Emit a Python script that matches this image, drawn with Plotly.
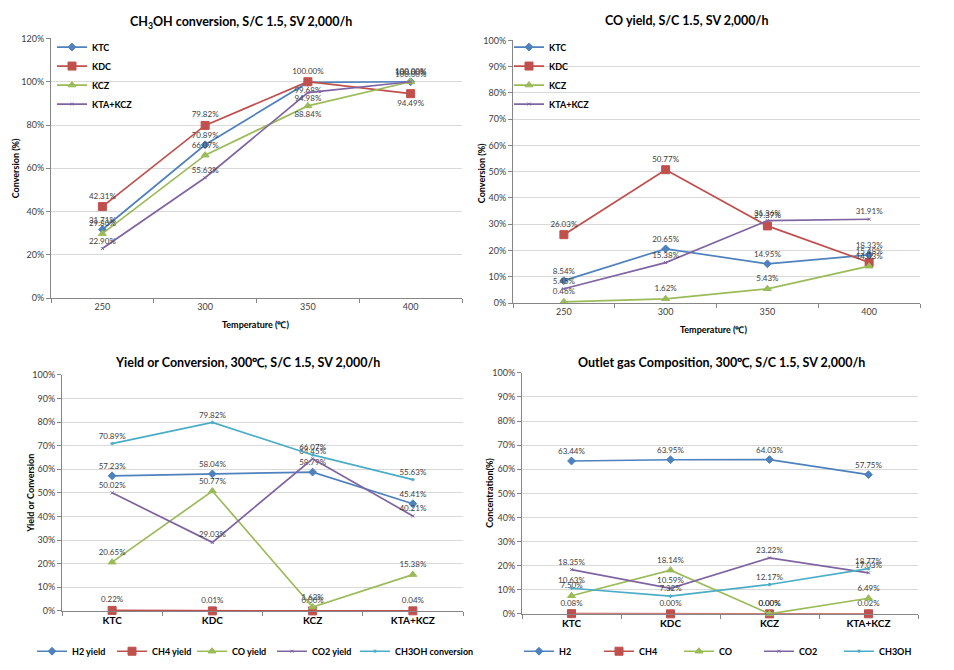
import plotly.graph_objects as go

# ---------------- data ----------------
temps = ["250", "300", "350", "400"]
catalysts = ["KTC", "KDC", "KCZ", "KTA+KCZ"]

# Panel 1: CH3OH conversion (%) vs temperature
conv_ktc = [31.71, 70.89, 99.68, 100.00]
conv_kdc = [42.31, 79.82, 100.00, 94.49]
conv_kcz = [29.80, 66.07, 88.84, 100.00]
conv_ktakcz = [22.90, 55.63, 94.98, 100.00]

# Panel 2: CO yield (%) vs temperature
co_ktc = [8.54, 20.65, 14.95, 18.33]
co_kdc = [26.03, 50.77, 29.37, 15.48]
co_kcz = [0.46, 1.62, 5.43, 14.03]
co_ktakcz = [5.45, 15.38, 31.36, 31.91]

# Panel 3: yield or conversion at 300C (%)
h2_yield = [57.23, 58.04, 58.79, 45.41]
ch4_yield = [0.22, 0.01, 0.00, 0.04]
co_yield = [20.65, 50.77, 1.62, 15.38]
co2_yield = [50.02, 29.03, 64.45, 40.21]
meoh_conversion = [70.89, 79.82, 66.07, 55.63]

# Panel 4: outlet gas composition at 300C (%)
gas_h2 = [63.44, 63.95, 64.03, 57.75]
gas_ch4 = [0.08, 0.00, 0.00, 0.02]
gas_co = [7.50, 18.14, 0.00, 6.49]
gas_co2 = [18.35, 10.59, 23.22, 17.03]
gas_ch3oh = [10.63, 7.32, 12.17, 18.77]

# ---------------- style ----------------
W, H = 954, 670
BLUE, RED, GREEN, PURPLE, AQUA = "#4F81BD", "#C0504D", "#9BBB59", "#8064A2", "#4BACC6"
FONT = "Lato"
LBL = dict(family=FONT, size=8, color="#404040")

styles = [
    dict(color=BLUE, symbol="diamond", size=6),
    dict(color=RED, symbol="square", size=8),
    dict(color=GREEN, symbol="triangle-up", size=7),
    dict(color=PURPLE, symbol="x-thin", size=3),
    dict(color=AQUA, symbol="asterisk", size=3),
]


def px(x):
    return x / W


def py(y):
    return 1 - y / H


def fmt(vals):
    return [f"{v:.2f}%" for v in vals]


fig = go.Figure()


def add(x, y, name, st, xa, ya, legend, pos="top center"):
    fig.add_trace(go.Scatter(
        x=x, y=y, name=name, mode="lines+markers+text",
        text=fmt(y), textposition=pos, textfont=LBL,
        line=dict(color=st["color"], width=1.7),
        marker=dict(color=st["color"], symbol=st["symbol"], size=st["size"],
                    line=dict(color=st["color"], width=1)),
        xaxis=xa, yaxis=ya, legend=legend, cliponaxis=False,
    ))


# Panel 1
p1_pos = [
    ["top center", "top center", "bottom center", "top center"],
    ["top center", "top center", "top center", "bottom center"],
    ["top center", "top center", "bottom center", "top center"],
    ["top center", "top center", "bottom center", "top center"],
]
for i, (vals, nm) in enumerate(zip([conv_ktc, conv_kdc, conv_kcz, conv_ktakcz], catalysts)):
    add(temps, vals, nm, styles[i], "x", "y", "legend", p1_pos[i])

# Panel 2
for i, (vals, nm) in enumerate(zip([co_ktc, co_kdc, co_kcz, co_ktakcz], catalysts)):
    add(temps, vals, nm, styles[i], "x2", "y2", "legend2")

# Panel 3
p3_names = ["H2 yield", "CH4 yield", "CO yield", "CO2 yield", "CH3OH conversion"]
p3_legends = ["legend3", "legend3", "legend3", "legend3", "legend5"]
for i, (vals, nm) in enumerate(zip([h2_yield, ch4_yield, co_yield, co2_yield, meoh_conversion], p3_names)):
    add(catalysts, vals, nm, styles[i], "x3", "y3", p3_legends[i])

# Panel 4
p4_names = ["H2", "CH4", "CO", "CO2", "CH3OH"]
for i, (vals, nm) in enumerate(zip([gas_h2, gas_ch4, gas_co, gas_co2, gas_ch3oh], p4_names)):
    add(catalysts, vals, nm, styles[i], "x4", "y4", "legend4")

AX = "#868686"
GRID = "#D9D9D9"


def xax(dom, anchor, bold=False):
    return dict(domain=dom, anchor=anchor, type="category", range=[-0.5, 3.5],
                tickson="boundaries", ticks="outside", ticklen=4, tickcolor=AX,
                showline=True, linecolor=AX, linewidth=1, showgrid=False, zeroline=False,
                tickfont=dict(family=FONT, size=10 if bold else 9,
                              color="#000000" if bold else "#404040",
                              weight="bold" if bold else "normal"))


def yax(dom, anchor, rng, dt):
    return dict(domain=dom, anchor=anchor, range=rng, dtick=dt, ticksuffix="%",
                showgrid=True, gridcolor=GRID, gridwidth=1, zeroline=False,
                showline=True, linecolor=AX, linewidth=1, ticks="outside", ticklen=4,
                tickcolor=AX, tickfont=dict(family=FONT, size=9, color="#404040"))


fig.update_layout(
    width=W, height=H, margin=dict(l=0, r=0, t=0, b=0),
    plot_bgcolor="white", paper_bgcolor="white",
    xaxis=xax([px(51), px(462)], "y"),
    yaxis=yax([py(297), py(33)], "x", [0, 120], 20),
    xaxis2=xax([px(513), px(920)], "y2"),
    yaxis2=yax([py(302), py(35)], "x2", [0, 100], 10),
    xaxis3=xax([px(62), px(463)], "y3", bold=True),
    yaxis3=yax([py(615), py(375)], "x3", [0, 100], 10),
    xaxis4=xax([px(522), px(918)], "y4", bold=True),
    yaxis4=yax([py(618), py(373)], "x4", [0, 100], 10),
    showlegend=True,
)

LEGFONT = dict(family=FONT, size=9, color="#000000", weight="bold")
CLEAR = "rgba(0,0,0,0)"
fig.update_layout(
    legend=dict(x=px(52), y=py(27), xanchor="left", yanchor="top", font=LEGFONT,
                bgcolor=CLEAR, orientation="v"),
    legend2=dict(x=px(509), y=py(27), xanchor="left", yanchor="top", font=LEGFONT,
                 bgcolor=CLEAR, orientation="v"),
    legend3=dict(x=px(32), y=py(656), xanchor="left", yanchor="middle", font=LEGFONT,
                 bgcolor=CLEAR, orientation="h", entrywidth=35),
    legend5=dict(x=px(355), y=py(656), xanchor="left", yanchor="middle", font=LEGFONT,
                 bgcolor=CLEAR, orientation="h"),
    legend4=dict(x=px(519), y=py(656), xanchor="left", yanchor="middle", font=LEGFONT,
                 bgcolor=CLEAR, orientation="h", entrywidth=35),
)

TF = dict(family=FONT, size=12.5, color="#000000", weight="bold")
AF = dict(family=FONT, size=9, color="#000000", weight="bold")
anns = [
    dict(x=px(241), y=py(17), text="CH<sub>3</sub>OH conversion, S/C 1.5, SV 2,000/h", font=TF),
    dict(x=px(687), y=py(15), text="CO yield, S/C 1.5, SV 2,000/h", font=TF),
    dict(x=px(247), y=py(362), text="Yield or Conversion, 300\u2103, S/C 1.5, SV 2,000/h", font=TF),
    dict(x=px(721), y=py(362), text="Outlet gas Composition, 300\u2103, S/C 1.5, SV 2,000/h", font=TF),
    dict(x=px(255), y=py(324), text="Temperature (\u2103)", font=AF),
    dict(x=px(713), y=py(329), text="Temperature (\u2103)", font=AF),
    dict(x=px(15), y=py(165), text="Conversion (%)", font=AF, textangle=-90),
    dict(x=px(481), y=py(170), text="Conversion (%)", font=AF, textangle=-90),
    dict(x=px(31), y=py(495), text="Yield or Conversion", font=AF, textangle=-90),
    dict(x=px(490), y=py(495), text="Concentration(%)", font=AF, textangle=-90),
]
for a in anns:
    a.update(xref="paper", yref="paper", showarrow=False, xanchor="center", yanchor="middle")
fig.update_layout(annotations=anns)

fig.write_html("out.html")
